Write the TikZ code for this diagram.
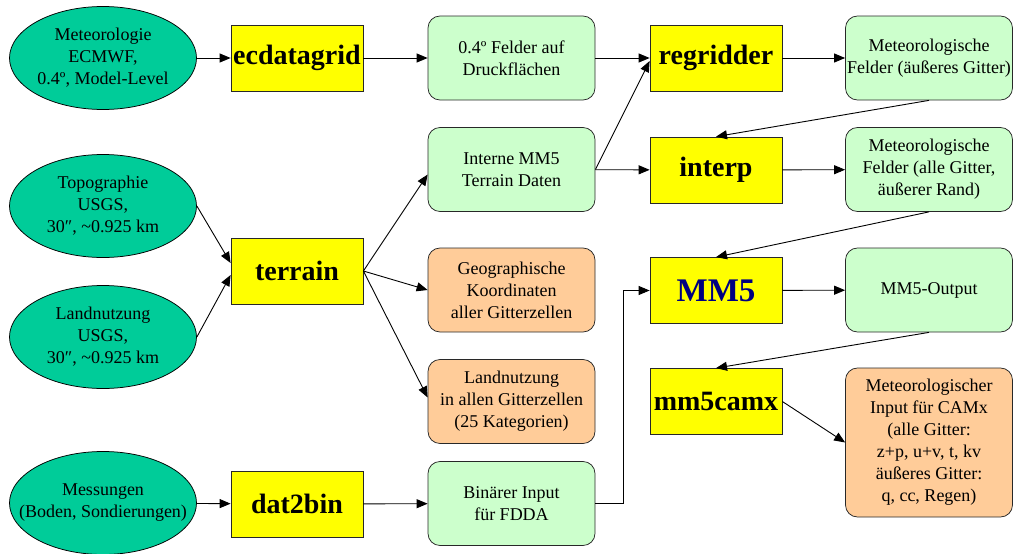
\documentclass[tikz,border=0pt]{standalone}
\usepackage{fontspec}
\setmainfont{Liberation Serif}
\usetikzlibrary{shapes.geometric,arrows.meta}

\definecolor{srcgreen}{RGB}{0,204,153}
\definecolor{progyellow}{RGB}{255,255,0}
\definecolor{datagreen}{RGB}{204,255,204}
\definecolor{resorange}{RGB}{255,204,153}
\definecolor{mmblue}{RGB}{0,0,128}
\definecolor{edgegrey}{RGB}{40,40,40}

\newcommand{\arcsec}{″}
\newcommand{\approxtilde}{\char"007E\relax}

\tikzset{every picture/.style={line width=0.75pt}}
\tikzset{
  source/.style={ellipse, draw=black, fill=srcgreen, minimum width=187, minimum height=103, inner sep=0pt, align=center, font=\fontsize{18}{22}\selectfont},
  prog/.style={rectangle, draw=edgegrey, fill=progyellow, minimum width=132, minimum height=66, inner sep=0pt, font=\fontsize{28}{32}\selectfont\bfseries},
  data/.style={rectangle, rounded corners=12, draw=edgegrey, fill=datagreen, minimum width=167, minimum height=84, inner sep=1pt, align=center, font=\fontsize{18}{22}\selectfont},
  result/.style={data, fill=resorange},
  flow/.style={-{Triangle[length=11pt,width=9pt]}, line width=0.9pt}
}

\begin{document}
\begin{tikzpicture}[x=1pt,y=1pt,yscale=-1,xscale=1]
\useasboundingbox (0,0) rectangle (1020,554);

%Shape: Ellipse [sources]
\node (met) at (103,58) [source] {Meteorologie\\ECMWF,\\0.4º, Model-Level};
\node (topo) at (103,206) [source] {Topographie\\USGS,\\30\arcsec, \approxtilde0.925 km};
\node (landuse) at (103,337) [source] {Landnutzung\\USGS,\\30\arcsec, \approxtilde0.925 km};
\node (mess) at (103,503) [source] {Messungen\\\makebox[130pt]{(Boden, Sondierungen)}};

%Shape: Rectangle [programs]
\node (ecdata) at (297,58) [prog] {ecdatagrid};
\node (terrain) at (297,271) [prog] {terrain};
\node (dattobin) at (297,504) [prog] {dat2bin};
\node (regrid) at (716,58) [prog] {regridder};
\node (interp) at (716,170) [prog] {interp};
\node (mmfive) at (716,290.5) [prog, font=\fontsize{33}{36}\selectfont\bfseries, text=mmblue] {MM5};
\node (camx) at (716,401.5) [prog] {mm5camx};

%Shape: Rounded Rectangle [data]
\node (felder) at (511.5,58) [data] {0.4º Felder auf\\Druckflächen};
\node (interne) at (511.5,169.5) [data] {Interne MM5\\Terrain Daten};
\node (geo) at (511.5,290) [result] {Geographische\\Koordinaten\\aller Gitterzellen};
\node (landcells) at (511.5,401.5) [result] {Landnutzung\\in allen Gitterzellen\\(25 Kategorien)};
\node (binaer) at (511.5,503.5) [data] {Binärer Input\\für FDDA};
\node (metouter) at (929,58) [data] {Meteorologische\\Felder (äußeres Gitter)};
\node (metall) at (929,169.5) [data] {Meteorologische\\Felder (alle Gitter,\\äußerer Rand)};
\node (mmout) at (929,290) [data] {MM5-Output};
\node (camxin) at (929,442.5) [result, minimum height=149] {Meteorologischer\\Input für CAMx\\(alle Gitter:\\z+p, u+v, t, kv\\äußeres Gitter:\\q, cc, Regen)};

%Straight Lines [connectors]
\draw [flow] (met) -- (ecdata);
\draw [flow] (ecdata) -- (felder);
\draw [flow] (felder) -- (regrid);
\draw [flow] (interne.east) -- ([yshift=3]regrid.west);
\draw [flow] (interne) -- (interp);
\draw [flow] (regrid) -- (metouter);
\draw [flow] (metouter.south) -- (interp.north);
\draw [flow] (interp) -- (metall);
\draw [flow] (metall.south) -- (mmfive.north);
\draw [flow] (mmfive) -- (mmout);
\draw [flow] (mmout.south) -- (camx.north);
\draw [flow] (camx.east) -- (camxin.west);
\draw [flow] (topo.east) -- ([yshift=-8]terrain.west);
\draw [flow] (landuse.east) -- ([yshift=4]terrain.west);
\draw [flow] (terrain.east) -- ([yshift=5]interne.west);
\draw [flow] (terrain.east) -- (geo.west);
\draw [flow] (terrain.east) -- ([yshift=-4]landcells.west);
\draw [flow] (mess) -- (dattobin);
\draw [flow] (dattobin) -- (binaer);
\draw [flow] (binaer.east) -- ++(28,0) |- (mmfive.west);

\end{tikzpicture}
\end{document}
